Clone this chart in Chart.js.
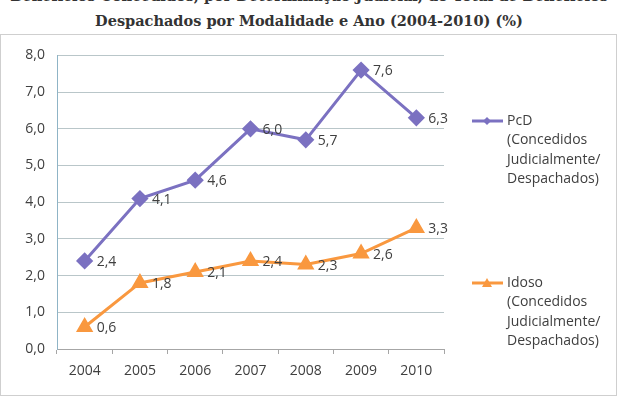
<!DOCTYPE html>
<html lang="pt-br">
<head>
    <meta charset="UTF-8">
    <title>Benefícios Concedidos por Determinação Judicial</title>
    <script src="https://cdn.jsdelivr.net/npm/chart.js"></script>
    <style>
        body {
            margin: 0;
            background-color: #fff;
            width: 618px;
            height: 400px;
            overflow: hidden;
            position: relative;
        }
        .titulo {
            position: absolute;
            left: 0;
            width: 618px;
            text-align: center;
            font-family: "DejaVu Serif", "Liberation Serif", serif;
            font-weight: bold;
            font-size: 14.5px;
            color: #333;
            white-space: nowrap;
        }
        .caixa {
            position: absolute;
            left: 0;
            top: 34px;
            width: 615px;
            height: 360px;
            border: 1px solid #cfcfcf;
        }
    </style>
</head>
<body>
    <div class="titulo" style="top:-13px">Benefícios Concedidos, por Determinação Judicial, do Total de Benefícios</div>
    <div class="titulo" style="top:12px">Despachados por Modalidade e Ano (2004-2010) (%)</div>
    <div class="caixa">
        <canvas id="grafico" width="615" height="360"></canvas>
    </div>

    <script>
        // Dados
        var anos = ['2004', '2005', '2006', '2007', '2008', '2009', '2010'];
        var pcd = [2.4, 4.1, 4.6, 6.0, 5.7, 7.6, 6.3];
        var idoso = [0.6, 1.8, 2.1, 2.4, 2.3, 2.6, 3.3];
        var legendaPcd = ['PcD', '(Concedidos', 'Judicialmente/', 'Despachados)'];
        var legendaIdoso = ['Idoso', '(Concedidos', 'Judicialmente/', 'Despachados)'];

        var corTexto = '#404040';
        var fonte = '"Open Sans", sans-serif';

        function virgula(v) {
            return v.toFixed(1).replace('.', ',');
        }

        // Rótulos de dados à direita de cada ponto
        var rotulos = {
            id: 'rotulos',
            afterDatasetsDraw: function(chart) {
                var ctx = chart.ctx;
                ctx.save();
                ctx.font = '14px ' + fonte;
                ctx.fillStyle = corTexto;
                ctx.textAlign = 'left';
                ctx.textBaseline = 'middle';
                chart.data.datasets.forEach(function(ds, i) {
                    chart.getDatasetMeta(i).data.forEach(function(pt, j) {
                        ctx.fillText(virgula(ds.data[j]), pt.x + 12, pt.y + 1);
                    });
                });
                ctx.restore();
            }
        };

        // Legenda com linha e marcador
        var legenda = {
            id: 'legenda',
            afterDraw: function(chart) {
                var ctx = chart.ctx;
                var topos = [86, 248];
                ctx.save();
                chart.data.datasets.forEach(function(ds, i) {
                    var x = 471, y = topos[i];
                    ctx.strokeStyle = ds.borderColor;
                    ctx.lineWidth = 3;
                    ctx.beginPath();
                    ctx.moveTo(x, y);
                    ctx.lineTo(x + 31, y);
                    ctx.stroke();
                    ctx.fillStyle = ds.borderColor;
                    var cx = x + 15;
                    ctx.beginPath();
                    if (ds.pointStyle === 'rectRot') {
                        ctx.moveTo(cx, y - 4);
                        ctx.lineTo(cx + 4, y);
                        ctx.lineTo(cx, y + 4);
                        ctx.lineTo(cx - 4, y);
                    } else {
                        ctx.moveTo(cx, y - 5);
                        ctx.lineTo(cx + 5, y + 4);
                        ctx.lineTo(cx - 5, y + 4);
                    }
                    ctx.closePath();
                    ctx.fill();
                    ctx.font = '14px ' + fonte;
                    ctx.fillStyle = corTexto;
                    ctx.textBaseline = 'middle';
                    ds.legendaLinhas.forEach(function(t, k) {
                        ctx.fillText(t, x + 35, y + k * 19.5);
                    });
                });
                ctx.restore();
            }
        };

        var ctx = document.getElementById('grafico').getContext('2d');
        var grafico = new Chart(ctx, {
            type: 'line',
            data: {
                labels: anos,
                datasets: [{
                    label: 'PcD',
                    legendaLinhas: legendaPcd,
                    data: pcd,
                    borderColor: '#7b71c1',
                    backgroundColor: '#7b71c1',
                    borderWidth: 3,
                    pointStyle: 'rectRot',
                    pointRadius: 6.5,
                    pointHoverRadius: 6.5,
                    tension: 0
                }, {
                    label: 'Idoso',
                    legendaLinhas: legendaIdoso,
                    data: idoso,
                    borderColor: '#f9983f',
                    backgroundColor: '#f9983f',
                    borderWidth: 3,
                    pointStyle: 'triangle',
                    pointRadius: 7,
                    pointHoverRadius: 7,
                    tension: 0
                }]
            },
            options: {
                responsive: false,
                animation: false,
                layout: {
                    padding: { left: 0, right: 172, top: 19, bottom: 0 }
                },
                plugins: {
                    legend: { display: false },
                    tooltip: { enabled: false }
                },
                scales: {
                    x: {
                        offset: true,
                        grid: {
                            offset: true,
                            drawOnChartArea: false,
                            drawTicks: true,
                            tickLength: 5,
                            color: '#a6a6a6'
                        },
                        border: { color: '#a6a6a6', width: 1 },
                        ticks: {
                            color: corTexto,
                            font: { family: 'Open Sans', size: 14 },
                            padding: 9,
                            maxRotation: 0
                        },
                        afterFit: function(s) { s.height = 46; }
                    },
                    y: {
                        min: 0,
                        max: 8,
                        grid: {
                            color: '#b9c6c9',
                            drawTicks: false
                        },
                        border: { color: '#8fb4c6', width: 1 },
                        ticks: {
                            stepSize: 1,
                            color: corTexto,
                            font: { family: 'Open Sans', size: 14 },
                            padding: 12,
                            callback: function(v) { return virgula(v); }
                        },
                        afterFit: function(s) { s.width = 56; }
                    }
                }
            },
            plugins: [rotulos, legenda]
        });
    </script>
</body>
</html>
